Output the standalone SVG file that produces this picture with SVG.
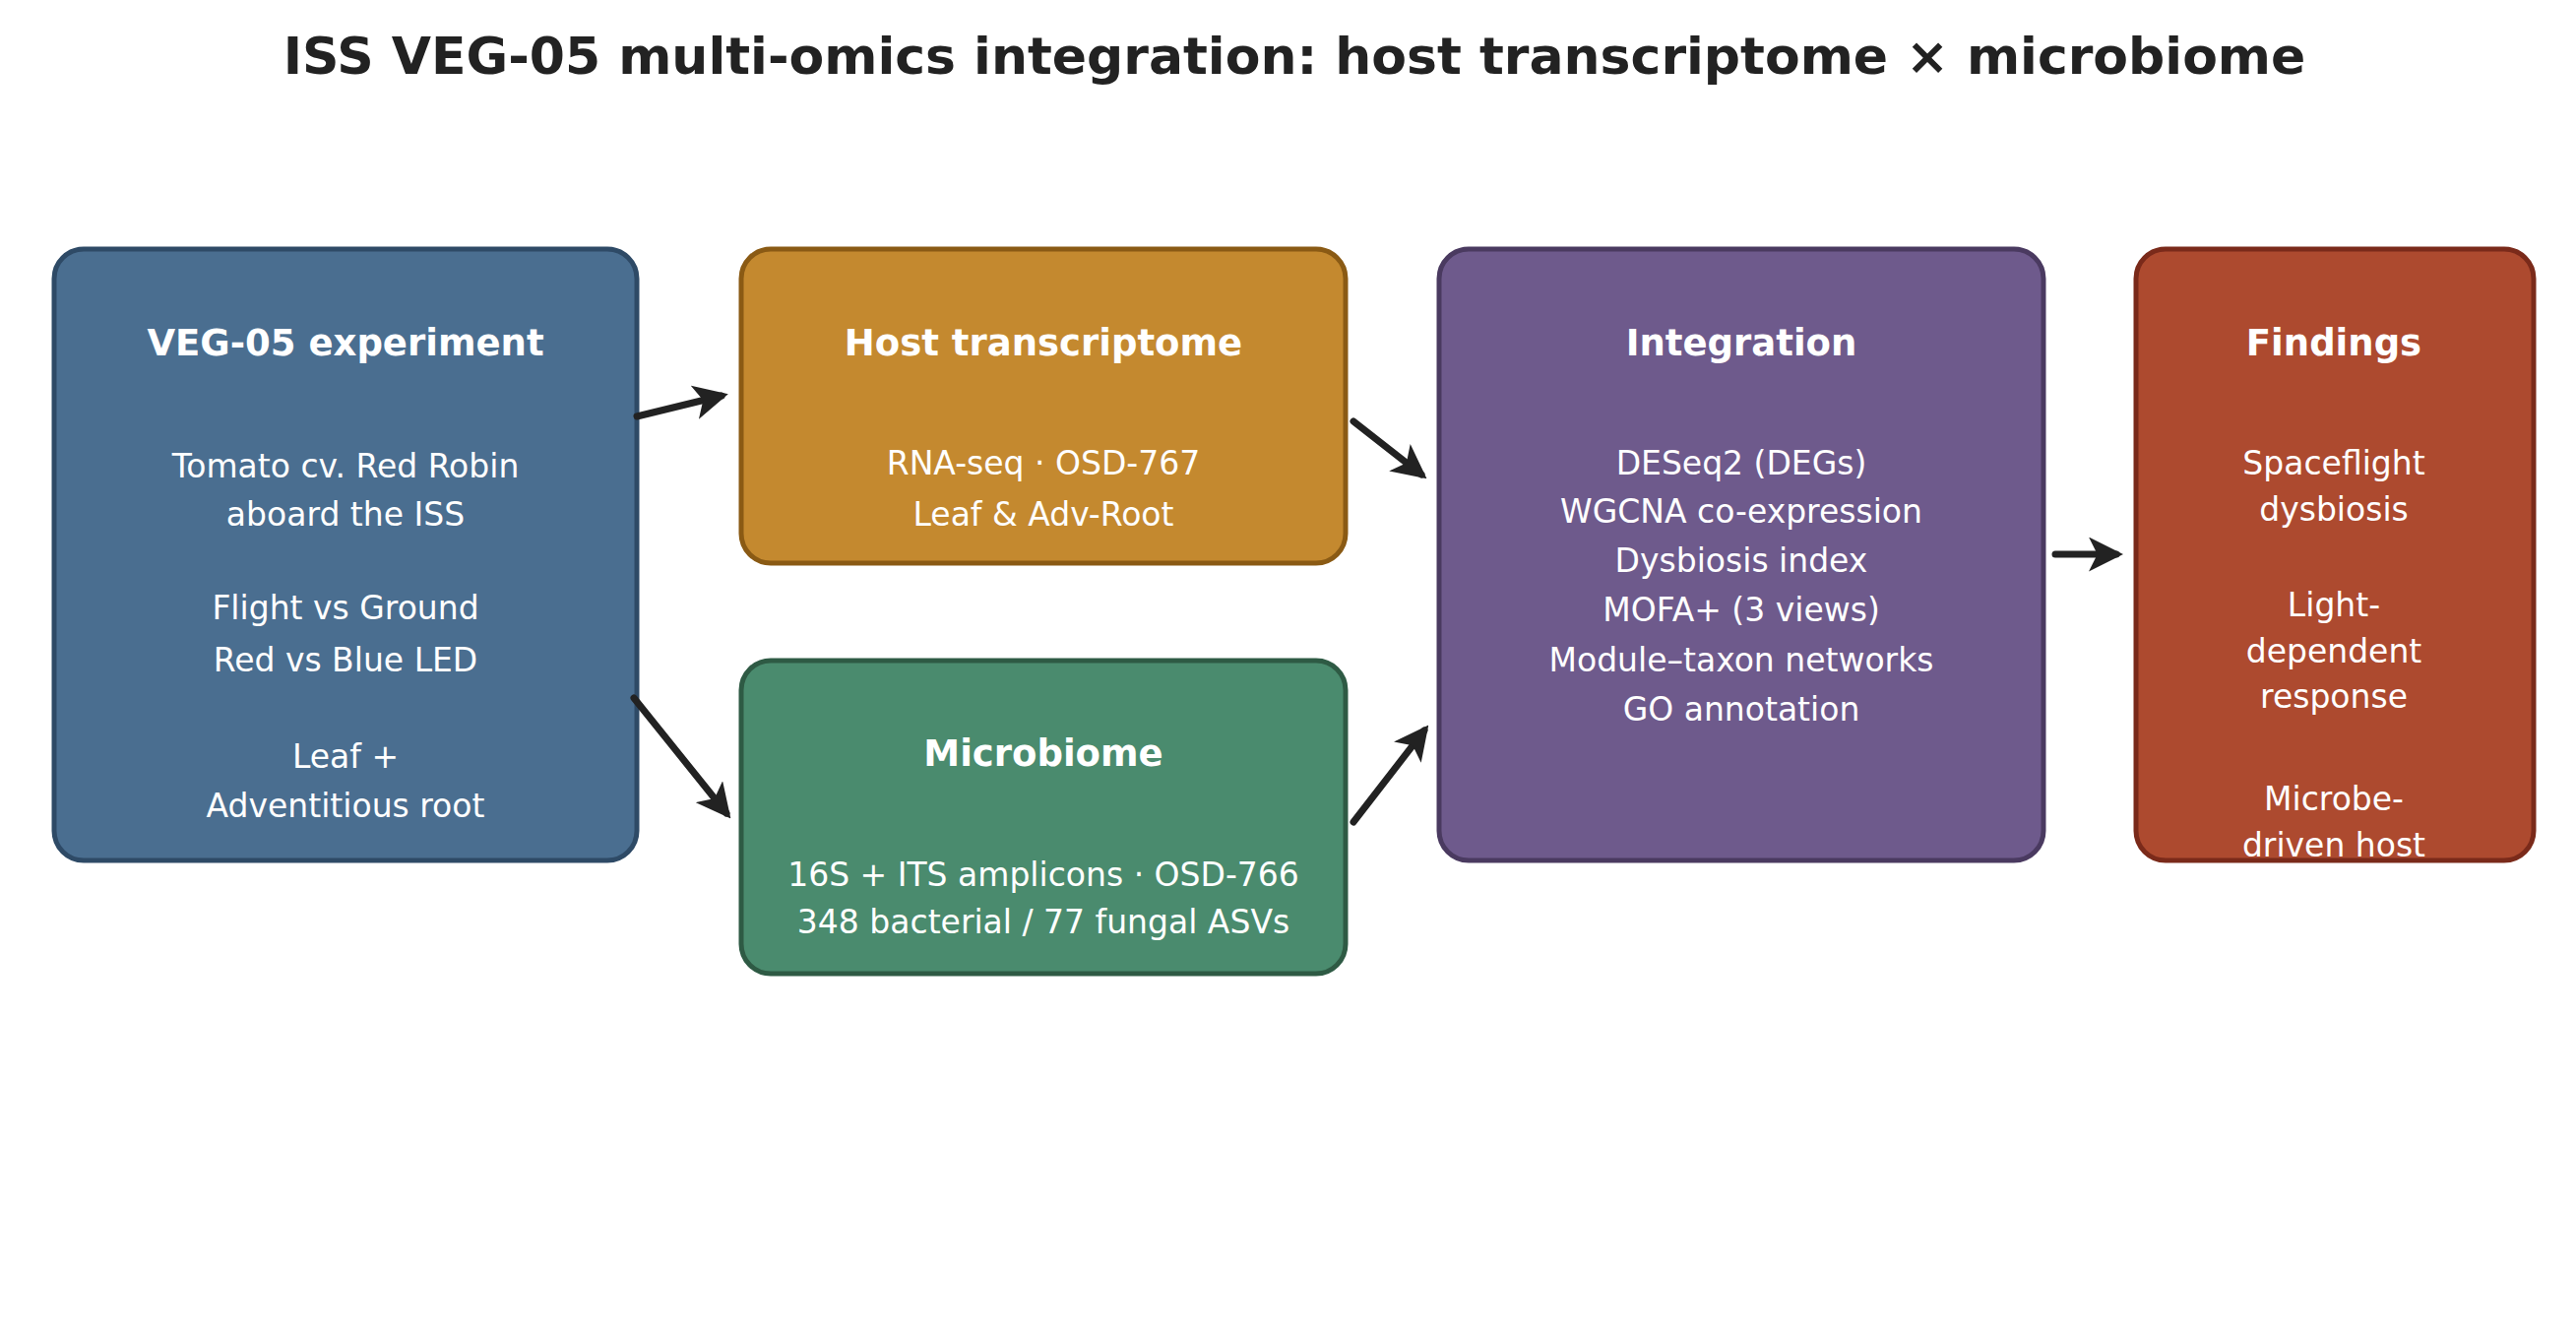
<svg xmlns="http://www.w3.org/2000/svg" width="2617" height="1353" viewBox="0 0 2617 1353">
<style>
text{font-family:"DejaVu Sans","Liberation Sans",sans-serif;fill:#fff;text-anchor:middle}
.t{font-size:37px;font-weight:bold}
.b{font-size:33px}
.box{stroke-width:5}
.c{stroke:#222;stroke-width:7;fill:none;marker-end:url(#ah);stroke-linecap:round}
</style>
<defs><marker id="ah" viewBox="0 0 10 10" refX="8" refY="5" markerWidth="5" markerHeight="5" orient="auto" markerUnits="strokeWidth"><path d="M0,0 L10,5 L0,10 L2.5,5 z" fill="#222"/></marker></defs>
<rect width="2617" height="1353" fill="#fff"/>
<text x="1315" y="75" style="font-size:52px;font-weight:bold;fill:#222">ISS VEG-05 multi-omics integration: host transcriptome × microbiome</text>
<g id="veg05"><rect class="box" x="55" y="253" width="592" height="621" rx="30" fill="#4a6e90" stroke="#2e4a66"/>
<text class="t" x="351" y="361">VEG-05 experiment</text>
<text class="b" x="351" y="485">Tomato cv. Red Robin</text><text class="b" x="351" y="534">aboard the ISS</text>
<text class="b" x="351" y="629">Flight vs Ground</text><text class="b" x="351" y="682">Red vs Blue LED</text>
<text class="b" x="351" y="780">Leaf +</text><text class="b" x="351" y="830">Adventitious root</text></g>
<g id="host"><rect class="box" x="753" y="253" width="614" height="319" rx="30" fill="#c4892f" stroke="#8a5a14"/>
<text class="t" x="1060" y="361">Host transcriptome</text>
<text class="b" x="1060" y="482">RNA-seq · OSD-767</text><text class="b" x="1060" y="534">Leaf &amp; Adv-Root</text></g>
<g id="micro"><rect class="box" x="753" y="671" width="614" height="318" rx="30" fill="#4a8b6e" stroke="#2e5a44"/>
<text class="t" x="1060" y="778">Microbiome</text>
<text class="b" x="1060" y="900">16S + ITS amplicons · OSD-766</text><text class="b" x="1060" y="948">348 bacterial / 77 fungal ASVs</text></g>
<g id="integ"><rect class="box" x="1462" y="253" width="614" height="621" rx="30" fill="#6e5a8c" stroke="#4a3a60"/>
<text class="t" x="1769" y="361">Integration</text>
<text class="b" x="1769" y="482">DESeq2 (DEGs)</text><text class="b" x="1769" y="531">WGCNA co-expression</text><text class="b" x="1769" y="581">Dysbiosis index</text><text class="b" x="1769" y="631">MOFA+ (3 views)</text><text class="b" x="1769" y="682">Module–taxon networks</text><text class="b" x="1769" y="732">GO annotation</text></g>
<g id="find"><rect class="box" x="2170" y="253" width="404" height="621" rx="30" fill="#ad4a2f" stroke="#7a2a1a"/>
<text class="t" x="2371" y="361">Findings</text>
<text class="b" x="2371" y="482">Spaceflight</text><text class="b" x="2371" y="529">dysbiosis</text>
<text class="b" x="2371" y="626">Light-</text><text class="b" x="2371" y="673">dependent</text><text class="b" x="2371" y="719">response</text>
<text class="b" x="2371" y="823">Microbe-</text><text class="b" x="2371" y="870">driven host</text></g>
<g id="connectors">
<line class="c" x1="647" y1="423" x2="733" y2="402"/>
<line class="c" x1="644" y1="709" x2="738" y2="826"/>
<line class="c" x1="1375" y1="428" x2="1444" y2="482"/>
<line class="c" x1="1375" y1="835" x2="1447" y2="742"/>
<line class="c" x1="2088" y1="563" x2="2150" y2="563"/>
</g>
</svg>
